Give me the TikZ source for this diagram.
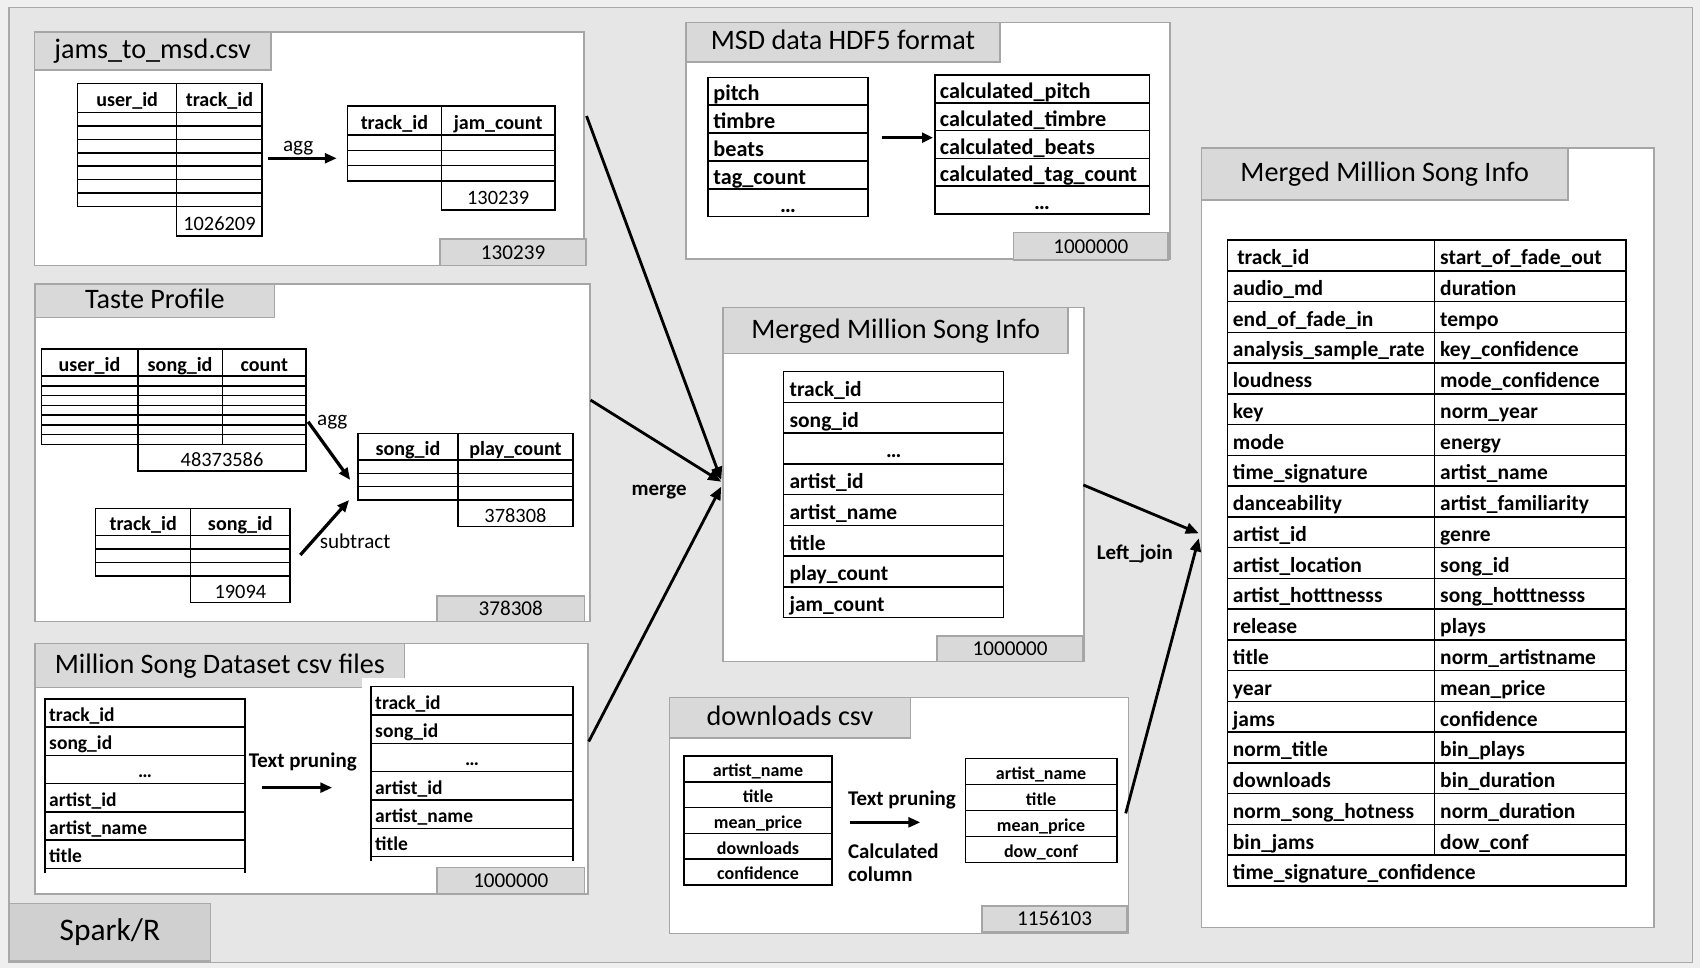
\documentclass[tikz,border=0pt]{standalone}
\usepackage{fontspec}
\setmainfont{Carlito}
\usetikzlibrary{arrows.meta}
\definecolor{pageback}{HTML}{EFEFEF}
\definecolor{framefill}{HTML}{E6E6E6}
\definecolor{frameline}{HTML}{A9A9A9}
\definecolor{pborder}{HTML}{A6A6A6}
\definecolor{tabfill}{HTML}{D9D9D9}
\definecolor{sparkfill}{HTML}{D0D0D0}
\newcommand{\myfs}[1]{\fontsize{#1}{#1}\selectfont}
\begin{document}
\begin{tikzpicture}[x=1pt,y=-1pt,
  panel/.style={draw=pborder, fill=white, line width=1.5pt, inner sep=0pt, anchor=north west},
  tabbox/.style={draw=pborder, fill=tabfill, line width=1.5pt, inner sep=0pt, anchor=north west},
  title/.style={tabbox, font=\myfs{26}, text height=19.5pt, text depth=5.3pt},
  cnt/.style={tabbox, font=\myfs{19.5}, text height=12.5pt, text depth=0pt},
  tbl/.style={draw=black, line width=1.4pt},
  cellb/.style={inner sep=0pt, font=\bfseries\myfs{#1}, text height={0.9*#1pt}, text depth={0.04*#1pt}},
  celln/.style={inner sep=0pt, font=\myfs{#1}, text height={0.9*#1pt}, text depth={0.04*#1pt}},
  lab/.style={inner sep=0pt, font=\myfs{19.5}},
  labb/.style={inner sep=0pt, font=\bfseries\myfs{19.3}},
  bigarrow/.style={line width=2.6pt, -{Triangle[length=12pt,width=10pt]}},
  smallarrow/.style={line width=3pt, -{Triangle[length=11pt,width=9pt]}},
]
% page and frame
\fill[pageback] (0,0) rectangle (1568,893);
\useasboundingbox (0,0) rectangle (1568,893);
\node[draw=frameline, fill=framefill, line width=1.5pt, minimum width=1552.5pt, minimum height=881pt, anchor=north west, inner sep=0pt] (frame) at (7.8,6.1) {};
\node[draw=frameline, fill=sparkfill, line width=1.5pt, anchor=north west, inner sep=0pt, minimum width=185.6pt, minimum height=52.8pt, font=\myfs{29}, text height=21.75pt, text depth=5.8pt] (spark) at (7.8,832.6) {Spark/R};

% ---------- Panel A: jams_to_msd.csv ----------
\node[panel, minimum width=507pt, minimum height=215pt] (pA) at (31,29) {};
\node[title, minimum width=218pt, minimum height=35pt] (tA) at (31,29) {jams\_to\_msd.csv};
\node[cnt, minimum width=135pt, minimum height=24.2pt] (nA) at (405,219.8) {130239};
% table A1
\draw[tbl, fill=white] (71.6,76.9) rectangle (241.8,190.6);
\draw[tbl, fill=white] (163,190.6) rectangle (241.8,217.7);
\draw[tbl] (163,76.9) -- (163,190.6);
\draw[tbl] (71.6,103.6) -- (241.8,103.6);
\foreach \k in {1,...,6} \draw[tbl] (71.6,103.6+12.43*\k) -- (241.8,103.6+12.43*\k);
\node[cellb={18.5}] (a1h1) at (117.3,90.25) {user\_id};
\node[cellb={18.5}] (a1h2) at (202.4,90.25) {track\_id};
\node[celln={18.8}] (a1n) at (202.4,204.15) {1026209};
% table A2
\draw[tbl, fill=white] (320.5,97.8) rectangle (511.9,166.9);
\draw[tbl, fill=white] (407,166.9) rectangle (511.9,193.7);
\draw[tbl] (407,97.8) -- (407,166.9);
\draw[tbl] (320.5,124.5) -- (511.9,124.5);
\foreach \k in {1,2} \draw[tbl] (320.5,124.5+14.13*\k) -- (511.9,124.5+14.13*\k);
\node[cellb={18.5}] (a2h1) at (363.75,111.15) {track\_id};
\node[cellb={18.5}] (a2h2) at (459.45,111.15) {jam\_count};
\node[celln={18.8}] (a2n) at (459.45,180.3) {130239};
% agg arrow
\coordinate (aAggS) at (247,146);
\coordinate (aAggE) at (310.6,146);
\draw[smallarrow] (aAggS) -- (aAggE);
\node[lab, anchor=base] (aAggL) at (275,139.3) {agg};

% ---------- Panel B: Taste Profile ----------
\node[panel, minimum width=511.8pt, minimum height=311.2pt] (pB) at (31.8,261.3) {};
\node[title, minimum width=220.6pt, minimum height=30.7pt] (tB) at (31.8,261.3) {Taste Profile};
\node[cnt, minimum width=135.9pt, minimum height=23.7pt] (nB) at (402.4,548.8) {378308};
% table B1
\draw[tbl, fill=white] (38.1,321.9) rectangle (282.4,409.8);
\draw[tbl, fill=white] (127.1,409.8) rectangle (282.4,434.4);
\draw[tbl] (127.1,321.9) -- (127.1,409.8);
\draw[tbl] (205.1,321.9) -- (205.1,409.8);
\draw[tbl] (38.1,346.8) -- (282.4,346.8);
\foreach \k in {1,...,6} \draw[tbl] (38.1,346.8+9*\k) -- (282.4,346.8+9*\k);
\node[cellb={18.5}] (b1h1) at (82.6,334.35) {user\_id};
\node[cellb={18.5}] (b1h2) at (166.1,334.35) {song\_id};
\node[cellb={18.5}] (b1h3) at (243.75,334.35) {count};
\node[celln={18.8}] (b1n) at (204.75,422.1) {48373586};
% table B2
\draw[tbl, fill=white] (330,399.7) rectangle (528.4,461.2);
\draw[tbl, fill=white] (422.5,461.2) rectangle (528.4,485.8);
\draw[tbl] (422.5,399.7) -- (422.5,461.2);
\draw[tbl] (330,424.3) -- (528.4,424.3);
\foreach \k in {1,2} \draw[tbl] (330,424.3+12.3*\k) -- (528.4,424.3+12.3*\k);
\node[cellb={18.5}] (b2h1) at (376.25,412) {song\_id};
\node[cellb={18.5}] (b2h2) at (475.45,412) {play\_count};
\node[celln={18.8}] (b2n) at (475.45,473.5) {378308};
% table B3
\draw[tbl, fill=white] (88.3,469.2) rectangle (267.6,531.3);
\draw[tbl, fill=white] (175.8,531.3) rectangle (267.6,555.9);
\draw[tbl] (175.8,469.2) -- (175.8,531.3);
\draw[tbl] (88.3,493.8) -- (267.6,493.8);
\foreach \k in {1,2} \draw[tbl] (88.3,493.8+12.5*\k) -- (267.6,493.8+12.5*\k);
\node[cellb={18.5}] (b3h1) at (132.05,481.5) {track\_id};
\node[cellb={18.5}] (b3h2) at (221.7,481.5) {song\_id};
\node[celln={18.8}] (b3n) at (221.7,543.6) {19094};
% arrows in B
\coordinate (bAggS) at (284.2,389);
\coordinate (bAggE) at (323,442.7);
\coordinate (bSubS) at (277,511.9);
\coordinate (bSubE) at (322,461.2);
\draw[smallarrow] (bAggS) -- (bAggE);
\draw[smallarrow] (bSubS) -- (bSubE);
\node[lab, anchor=base west] (bAggL) at (292.3,392.9) {agg};
\node[lab, anchor=base west] (bSubL) at (294.8,505.8) {subtract};

% ---------- Panel C: Million Song Dataset csv files ----------
\node[panel, minimum width=510pt, minimum height=231.2pt] (pC) at (31.8,592.8) {};
\node[title, minimum width=340.6pt, minimum height=40.5pt] (tC) at (31.8,592.8) {Million Song Dataset csv files};
\fill[white] (333.6,625.8) rectangle (373.4,634.2);
\node[cnt, minimum width=135.9pt, minimum height=24.6pt] (nC) at (402.4,799.4) {1000000};
% table C1
\draw[tbl] (41.6,805.5) -- (41.6,644.7) -- (225.9,644.7) -- (225.9,805.5);
\foreach \k in {1,...,6} \draw[tbl] (41.6,644.7+26.03*\k) -- (225.9,644.7+26.03*\k);
\foreach \t/\i in {track\_id/0, song\_id/1, artist\_id/3, artist\_name/4, title/5}
  \node[cellb={18}, anchor=west] (c1r\i) at (45.2,644.7+26.03*\i+13.02) {\t};
\node[cellb={18}] (c1r2) at (133.75,644.7+26.03*2.5) {…};
% table C2
\draw[tbl] (342.4,794.1) -- (342.4,633.3) -- (528.4,633.3) -- (528.4,794.1);
\foreach \k in {1,...,6} \draw[tbl] (342.4,633.3+26.15*\k) -- (528.4,633.3+26.15*\k);
\foreach \t/\i in {track\_id/0, song\_id/1, artist\_id/3, artist\_name/4, title/5}
  \node[cellb={18}, anchor=west] (c2r\i) at (345.9,633.3+26.15*\i+13.08) {\t};
\node[cellb={18}] (c2r2) at (435.4,633.3+26.15*2.5) {…};
% arrow in C
\coordinate (cPrS) at (241.8,726.5);
\coordinate (cPrE) at (306.4,726.5);
\draw[smallarrow] (cPrS) -- (cPrE);
\node[labb, anchor=base west] (cPruneL) at (229.4,707.8) {Text pruning};

% ---------- Panel D: MSD data HDF5 format ----------
\node[panel, minimum width=446.6pt, minimum height=218.3pt] (pD) at (632,20) {};
\node[title, minimum width=289.5pt, minimum height=36.3pt] (tD) at (632,20) {MSD data HDF5 format};
\node[cnt, minimum width=142.9pt, minimum height=25.5pt] (nD) at (933.9,213.7) {1000000};
% table D1
\draw[tbl, fill=white] (653.2,71.3) rectangle (800.4,199.9);
\foreach \k in {1,...,4} \draw[tbl] (653.2,71.3+25.72*\k) -- (800.4,71.3+25.72*\k);
\foreach \t/\i in {pitch/0, timbre/1, beats/2, tag\_count/3}
  \node[cellb={20.5}, anchor=west] (d1r\i) at (657.8,71.3+25.72*\i+12.86) {\t};
\node[cellb={20.5}] (d1r4) at (726.8,71.3+25.72*4.5) {…};
% table D2
\draw[tbl, fill=white] (862.2,69.2) rectangle (1060.2,197.4);
\foreach \k in {1,...,4} \draw[tbl] (862.2,69.2+25.64*\k) -- (1060.2,69.2+25.64*\k);
\foreach \t/\i in {calculated\_pitch/0, calculated\_timbre/1, calculated\_beats/2, calculated\_tag\_count/3}
  \node[cellb={20.5}, anchor=west] (d2r\i) at (866.7,69.2+25.64*\i+12.82) {\t};
\node[cellb={20.5}] (d2r4) at (961.2,69.2+25.64*4.5) {…};
% arrow in D
\coordinate (dArS) at (813.8,127);
\coordinate (dArE) at (860.5,127);
\draw[line width=2.5pt, -{Triangle[length=10pt,width=9pt]}] (dArS) -- (dArE);

% ---------- Panel E: Merged Million Song Info (middle) ----------
\node[panel, minimum width=332.9pt, minimum height=326.6pt] (pE) at (666.3,282.8) {};
\node[title, minimum width=318.1pt, minimum height=42.5pt] (tE) at (666.3,282.8) {Merged Million Song Info};
\node[cnt, minimum width=134.7pt, minimum height=23.7pt] (nE) at (863.6,585.7) {1000000};
\draw[tbl, fill=white] (722.8,342.8) rectangle (925.7,569.7);
\foreach \k in {1,...,7} \draw[tbl] (722.8,342.8+28.36*\k) -- (925.7,342.8+28.36*\k);
\foreach \t/\i in {track\_id/0, song\_id/1, artist\_id/3, artist\_name/4, title/5, play\_count/6, jam\_count/7}
  \node[cellb={19.8}, anchor=west] (er\i) at (728.1,342.8+28.36*\i+14.18) {\t};
\node[cellb={19.8}] (er2) at (824.25,342.8+28.36*2.5) {…};

% ---------- Panel F: downloads csv ----------
\node[panel, minimum width=423.3pt, minimum height=217.6pt] (pF) at (616.7,642.6) {};
\node[title, minimum width=222.3pt, minimum height=37.4pt] (tF) at (616.7,642.6) {downloads csv};
\node[cnt, minimum width=134.1pt, minimum height=24.3pt] (nF) at (904.9,834.7) {1156103};
% table F1
\draw[tbl, fill=white] (630.8,697.3) rectangle (767.5,816.3);
\foreach \k in {1,...,4} \draw[tbl] (630.8,697.3+23.8*\k) -- (767.5,697.3+23.8*\k);
\foreach \t/\i in {artist\_name/0, title/1, mean\_price/2, downloads/3, confidence/4}
  \node[cellb={16.6}] (f1r\i) at (699.15,697.3+23.8*\i+11.9) {\t};
% table F2
\draw[tbl, fill=white] (890.4,699.8) rectangle (1030.1,795.7);
\foreach \k in {1,...,3} \draw[tbl] (890.4,699.8+23.98*\k) -- (1030.1,699.8+23.98*\k);
\foreach \t/\i in {artist\_name/0, title/1, mean\_price/2, dow\_conf/3}
  \node[cellb={16.6}] (f2r\i) at (960.25,699.8+23.98*\i+11.99) {\t};
% arrow in F
\coordinate (fArS) at (784,758.5);
\coordinate (fArE) at (848.9,758.5);
\draw[smallarrow] (fArS) -- (fArE);
\node[labb, anchor=base west] (fPruneL) at (782,742.5) {Text pruning};
\node[labb, anchor=base west] (fCalc1) at (782,791.7) {Calculated};
\node[labb, anchor=base west] (fCalc2) at (782,813.2) {column};

% ---------- Panel G: Merged Million Song Info (right) ----------
\node[panel, minimum width=417.5pt, minimum height=718.8pt] (pG) at (1107.4,135.9) {};
\node[title, minimum width=338.2pt, minimum height=47.6pt] (tG) at (1107.4,135.9) {Merged Million Song Info};
\draw[tbl, fill=white] (1132.3,221.4) rectangle (1499.7,817.2);
\foreach \k in {1,...,20} \draw[tbl] (1132.3,221.4+28.37*\k) -- (1499.7,221.4+28.37*\k);
\draw[tbl] (1323.3,221.4) -- (1323.3,221.4+28.37*20);
\foreach \l/\r [count=\i from 0] in {
  {\hspace{4pt}track\_id}/start\_of\_fade\_out,
  audio\_md/duration,
  end\_of\_fade\_in/tempo,
  analysis\_sample\_rate/key\_confidence,
  loudness/mode\_confidence,
  key/norm\_year,
  mode/energy,
  time\_signature/artist\_name,
  danceability/artist\_familiarity,
  artist\_id/genre,
  artist\_location/song\_id,
  artist\_hotttnesss/song\_hotttnesss,
  release/plays,
  title/norm\_artistname,
  year/mean\_price,
  jams/confidence,
  norm\_title/bin\_plays,
  downloads/bin\_duration,
  norm\_song\_hotness/norm\_duration,
  bin\_jams/dow\_conf}
{
  \node[cellb={19.8}, anchor=west] (gl\i) at (1137,221.4+28.37*\i+14.18) {\l};
  \node[cellb={19.8}, anchor=west] (gr\i) at (1328.2,221.4+28.37*\i+14.18) {\r};
}
\node[cellb={19.8}, anchor=west] (gl20) at (1137,221.4+28.37*20+14.18) {time\_signature\_confidence};

% ---------- connectors between panels ----------
\coordinate (aOut) at (541,107);
\coordinate (bOut) at (544.7,369);
\coordinate (cOut) at (543,684);
\coordinate (eIn1) at (665.2,442.7);
\coordinate (eIn2) at (665.2,444.3);
\coordinate (eIn3) at (665.2,448.9);
\coordinate (eOut) at (999.2,447.3);
\coordinate (fOut) at (1038.3,750.2);
\coordinate (gIn1) at (1105.7,491.9);
\coordinate (gIn2) at (1105.7,496.5);
\draw[bigarrow] (aOut) -- (eIn1);
\draw[bigarrow] (bOut) -- (eIn2);
\draw[bigarrow] (cOut) -- (eIn3);
\draw[bigarrow] (eOut) -- (gIn1);
\draw[bigarrow] (fOut) -- (gIn2);
\node[labb, anchor=base west] (mergeL) at (582.4,456.6) {merge};
\node[labb, anchor=base west] (ljL) at (1011.5,516.5) {Left\_join};
\end{tikzpicture}
\end{document}
